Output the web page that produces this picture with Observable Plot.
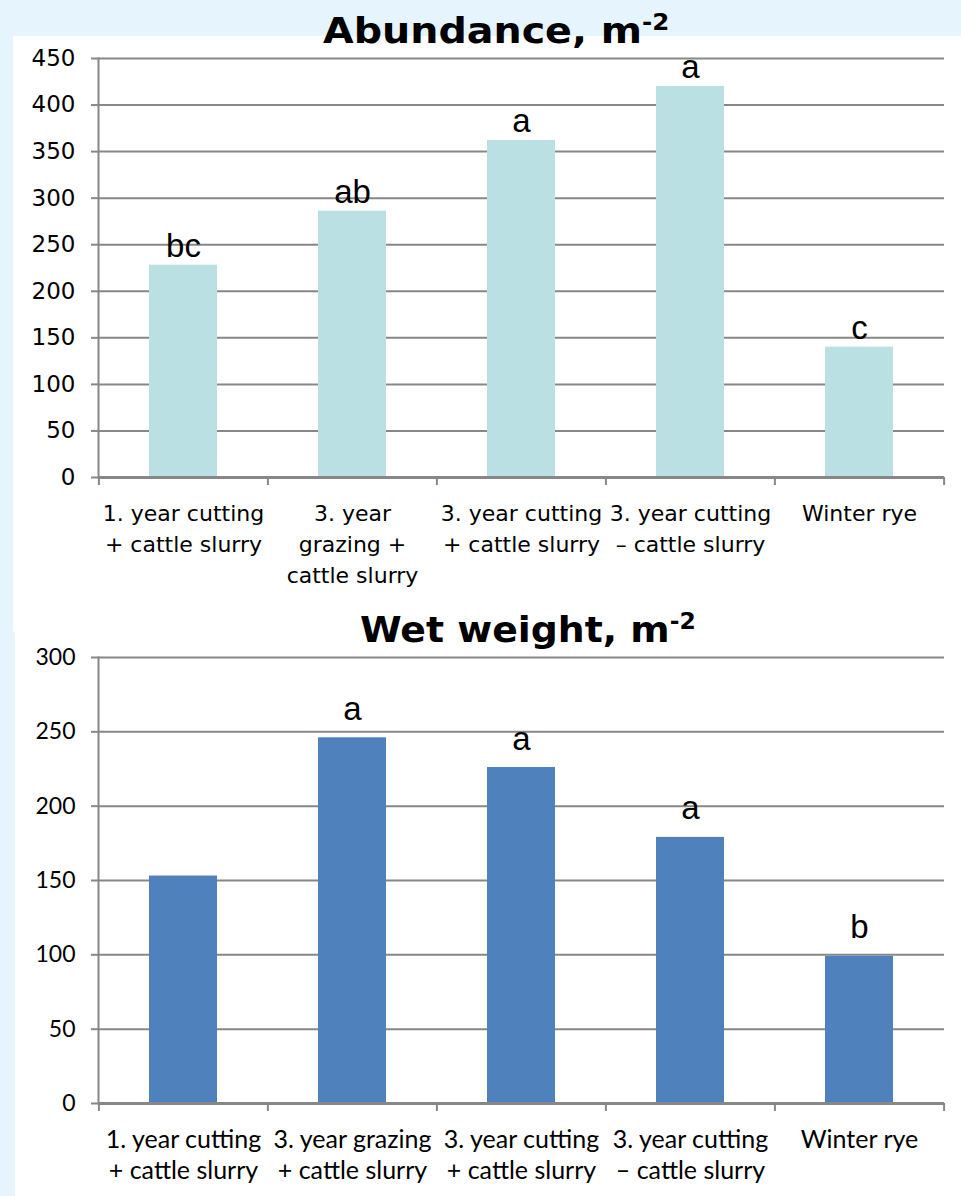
<!DOCTYPE html>
<html><head><meta charset="utf-8">
<script src="https://cdn.jsdelivr.net/npm/d3@7"></script>
<script src="https://cdn.jsdelivr.net/npm/@observablehq/plot@0.6"></script>
<style>
html,body{margin:0;padding:0;background:#E6F4FD;}
#wrap{position:relative;width:961px;height:1196px;overflow:hidden;}
.panel{position:absolute;background:#fff;}
.plot{position:absolute;left:0;}
.title{position:absolute;font-family:"DejaVu Sans",sans-serif;font-weight:bold;font-size:36px;color:#000;white-space:nowrap;line-height:1;transform-origin:left top;}
.title sup{font-size:0.62em;vertical-align:0.6em;line-height:0;}
</style></head><body>
<div id="wrap">
 <div class="panel" style="left:13px;top:36px;width:948px;height:596px"></div>
 <div class="panel" style="left:15px;top:632px;width:946px;height:564px"></div>
 <div id="p1" class="plot" style="top:0"></div>
 <div id="p2" class="plot" style="top:600px"></div>
 <div class="title" style="left:323px;top:13px;transform:scaleX(1.1)">Abundance, m<sup>-2</sup></div>
 <div class="title" style="left:360px;top:612px;transform:scaleX(1.05)">Wet weight, m<sup>-2</sup></div>
</div>
<script>
const categoriesTop = ["1. year cutting\n+ cattle slurry", "3. year\ngrazing +\ncattle slurry", "3. year cutting\n+ cattle slurry", "3. year cutting\n– cattle slurry", "Winter rye"];
const abundance = [228, 286, 362, 420, 140];
const abundanceLetters = ["bc", "ab", "a", "a", "c"];
const abundanceTicks = [0, 50, 100, 150, 200, 250, 300, 350, 400, 450];

const categoriesBottom = ["1. year cutting\n+ cattle slurry", "3. year grazing\n+ cattle slurry", "3. year cutting\n+ cattle slurry", "3. year cutting\n– cattle slurry", "Winter rye"];
const wetWeight = [153, 246, 226, 179, 99];
const wetLetters = ["", "a", "a", "a", "b"];
const wetTicks = [0, 50, 100, 150, 200, 250, 300];

const GRID = "#878787";

function chart({cats, values, letters, ticks, maxY, height, marginTop, marginBottom, fill, tickFont, tickFontSize, xFont, xFontSize, xLineHeight, xPad, letterDy}) {
  const width = 961, marginLeft = 98, marginRight = 17;
  const step = (width - marginLeft - marginRight) / cats.length;
  const data = cats.map((c, i) => ({cat: c, value: values[i], letter: letters[i]}));
  return Plot.plot({
    width, height, marginLeft, marginRight, marginTop, marginBottom,
    style: {background: "transparent", color: "black", overflow: "visible"},
    x: {domain: cats, paddingInner: 0.6, paddingOuter: 0.3, label: null},
    y: {domain: [0, maxY], label: null},
    marks: [
      Plot.gridY(ticks, {stroke: GRID, strokeOpacity: 1, strokeWidth: 2}),
      Plot.barY(data, {x: "cat", y: "value", fill}),
      Plot.frame({anchor: "left", stroke: GRID, strokeWidth: 2}),
      Plot.ruleY([0], {stroke: GRID, strokeWidth: 3}),
      Plot.axisY(ticks, {tickSize: 7, tickPadding: 16, stroke: GRID, strokeWidth: 2, fill: "black", fontSize: tickFontSize, fontFamily: tickFont, label: null}),
      Plot.axisX({tickSize: 0, tickPadding: xPad, fill: "black", fontSize: xFontSize, fontFamily: xFont, lineHeight: xLineHeight, label: null}),
      Plot.axisX({tickSize: 8, tickFormat: () => "", stroke: GRID, strokeWidth: 2, dx: -step / 2, label: null}),
      Plot.axisX([cats[cats.length - 1]], {tickSize: 8, tickFormat: () => "", stroke: GRID, strokeWidth: 2, dx: step / 2, label: null}),
      Plot.text(data, {x: "cat", y: "value", text: "letter", lineAnchor: "bottom", dy: letterDy, fontSize: 33, fontFamily: "Liberation Sans, Arial, sans-serif", fill: "black"})
    ]
  });
}

document.getElementById("p1").append(chart({
  cats: categoriesTop, values: abundance, letters: abundanceLetters, ticks: abundanceTicks, maxY: 450,
  height: 600, marginTop: 58, marginBottom: 123, fill: "#BAE0E3",
  tickFont: "DejaVu Sans, sans-serif", tickFontSize: 23,
  xFont: "DejaVu Sans, sans-serif", xFontSize: 22, xLineHeight: 1.4, xPad: 22, letterDy: -8
}));

document.getElementById("p2").append(chart({
  cats: categoriesBottom, values: wetWeight, letters: wetLetters, ticks: wetTicks, maxY: 300,
  height: 596, marginTop: 57, marginBottom: 93, fill: "#4F81BD",
  tickFont: "Lato, sans-serif", tickFontSize: 23,
  xFont: "Lato, sans-serif", xFontSize: 25, xLineHeight: 1.22, xPad: 23, letterDy: -18
}));
</script>
</body></html>
